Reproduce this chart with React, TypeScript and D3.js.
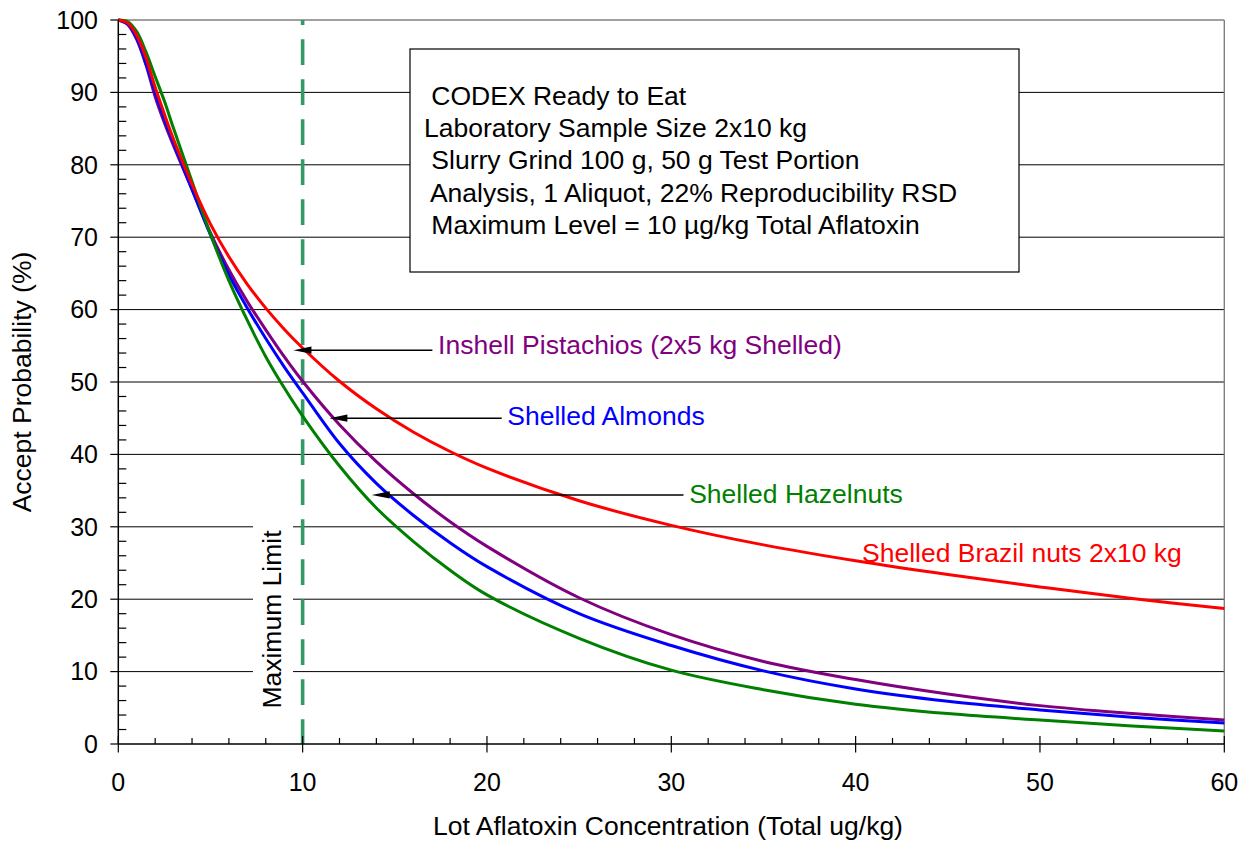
import React, { useRef, useEffect } from 'react';
import * as d3 from 'd3';

// lot concentration (ug/kg) at which the curves were read
const conc = [0, 0.5, 1, 1.5, 2, 2.5, 3, 4, 5, 6, 7, 8, 9, 10, 12, 14, 16, 18, 20, 25, 30, 35, 40, 45, 50, 55, 60];

// accept probability (%) per commodity
const brazil = [100, 99.6, 97.9, 94.8, 90.7, 87.0, 83.5, 77.3, 71.8, 67.3, 63.5, 60.2, 57.3, 54.7, 50.1, 46.3, 43.1, 40.4, 38.1, 33.6, 30.2, 27.5, 25.3, 23.4, 21.7, 20.1, 18.7];
const pistachio = [100, 99.4, 97.3, 93.8, 89.4, 85.8, 82.6, 76.6, 70.6, 65.5, 61.1, 57.2, 53.5, 50.1, 44.1, 39.0, 34.6, 30.7, 27.3, 20.2, 15.1, 11.4, 8.9, 6.9, 5.3, 4.2, 3.3];
const almond = [100, 99.5, 97.5, 94.0, 90.0, 86.3, 83.0, 76.6, 70.3, 64.8, 60.2, 56.0, 52.1, 48.5, 41.5, 36.0, 31.6, 27.8, 24.5, 18.0, 13.6, 10.1, 7.6, 5.9, 4.7, 3.7, 2.9];
const hazel = [100, 99.8, 98.4, 95.6, 92.2, 88.8, 85.0, 77.7, 70.4, 64.0, 58.5, 53.5, 49.2, 45.3, 38.4, 32.6, 28.0, 24.0, 20.6, 14.6, 10.2, 7.5, 5.5, 4.2, 3.3, 2.5, 1.8];

const xTicks = [0, 10, 20, 30, 40, 50, 60];
const yTicks = [0, 10, 20, 30, 40, 50, 60, 70, 80, 90, 100];

const boxLines = [
  ' CODEX Ready to Eat',
  'Laboratory Sample Size 2x10 kg',
  ' Slurry Grind 100 g, 50 g Test Portion',
  ' Analysis, 1 Aliquot, 22% Reproducibility RSD',
  ' Maximum Level = 10 \u00b5g/kg Total Aflatoxin',
];

const maxLimit = 10;

// labels: text, colour, position in data units, arrow tip / tail (data units) or null
const labels = [
  { text: 'Inshell Pistachios (2x5 kg Shelled)', color: '#800080', x: 17.35, y: 53.8, tip: [9.5, 54.4], tail: 17.04 },
  { text: 'Shelled Almonds', color: '#0000ff', x: 21.1, y: 44.0, tip: [11.45, 45.0], tail: 20.8 },
  { text: 'Shelled Hazelnuts', color: '#008000', x: 30.97, y: 33.3, tip: [13.75, 34.4], tail: 30.66 },
  { text: 'Shelled Brazil nuts 2x10 kg', color: '#ff0000', x: 40.35, y: 25.2, tip: null, tail: 0 },
];

const series = [
  { name: 'pistachio', values: pistachio, color: '#800080' },
  { name: 'almond', values: almond, color: '#0000ff' },
  { name: 'hazel', values: hazel, color: '#008000' },
  { name: 'brazil', values: brazil, color: '#ff0000' },
];

const W = 1242, H = 841;
const FONT = '"Liberation Sans", Arial, sans-serif';

export default function App() {
  const svgRef = useRef<SVGSVGElement>(null);

  useEffect(() => {
    const svg = d3.select(svgRef.current as SVGSVGElement);
    svg.selectAll('*').remove();
    svg.style('font-family', FONT);

    const x = d3.scaleLinear().domain([0, 60]).range([118.3, 1224.3]);
    const y = d3.scaleLinear().domain([0, 100]).range([744, 20]);
    const [x0, x1] = x.range();

    svg.append('rect').attr('width', W).attr('height', H).attr('fill', '#fff');

    // gridlines
    svg.append('g').selectAll('line')
      .data(yTicks.filter(v => v > 0 && v < 100))
      .join('line')
      .attr('x1', x0).attr('x2', x1)
      .attr('y1', d => y(d)).attr('y2', d => y(d))
      .attr('stroke', '#000').attr('stroke-width', 1);
    svg.append('line')
      .attr('x1', x0).attr('x2', x1).attr('y1', y(100)).attr('y2', y(100))
      .attr('stroke', '#808080').attr('stroke-width', 1.6);
    svg.append('line')
      .attr('x1', x1).attr('x2', x1).attr('y1', y(100)).attr('y2', y(0))
      .attr('stroke', '#808080').attr('stroke-width', 1.4);

    // text box
    svg.append('rect')
      .attr('x', 410).attr('y', 49).attr('width', 609).attr('height', 223)
      .attr('fill', '#fff').attr('stroke', '#000').attr('stroke-width', 1.2);
    svg.append('g').selectAll('text')
      .data(boxLines)
      .join('text')
      .attr('x', 424)
      .attr('y', (_, i) => 105 + i * 32.2)
      .attr('font-size', 26.5)
      .style('white-space', 'pre')
      .attr('fill', '#000')
      .text(d => d);

    // "Maximum Limit" label with white backing
    svg.append('rect')
      .attr('x', 253).attr('y', 522).attr('width', 40).attr('height', 192)
      .attr('fill', '#fff');
    svg.append('text')
      .attr('transform', `translate(281,619.5) rotate(-90)`)
      .attr('text-anchor', 'middle')
      .attr('font-size', 26.5)
      .text('Maximum Limit');

    // max limit dashed line
    svg.append('line')
      .attr('x1', x(maxLimit)).attr('x2', x(maxLimit))
      .attr('y1', y(100)).attr('y2', y(0))
      .attr('stroke', '#339966').attr('stroke-width', 3.6)
      .attr('stroke-dasharray', '25.7,14.3')
      .attr('stroke-dashoffset', 20.7);

    // curves
    const line = d3.line<number>()
      .x((_, i) => x(conc[i]))
      .y(d => y(d))
      .curve(d3.curveCatmullRom.alpha(0.5));
    svg.append('g').selectAll('path')
      .data(series)
      .join('path')
      .attr('fill', 'none')
      .attr('stroke', d => d.color)
      .attr('stroke-width', 3)
      .attr('stroke-linejoin', 'round')
      .attr('d', d => line(d.values) as string);

    // axes
    svg.append('line').attr('x1', x0).attr('x2', x0).attr('y1', y(100)).attr('y2', y(0))
      .attr('stroke', '#000').attr('stroke-width', 1.5);
    svg.append('line').attr('x1', x0).attr('x2', x1).attr('y1', y(0)).attr('y2', y(0))
      .attr('stroke', '#000').attr('stroke-width', 1.5);

    const minor = d3.range(0, 101, 2).filter(v => v % 10 !== 0);
    svg.append('g').selectAll('line')
      .data(minor)
      .join('line')
      .attr('x1', x0).attr('x2', x0 + 8)
      .attr('y1', d => y(d)).attr('y2', d => y(d))
      .attr('stroke', '#000').attr('stroke-width', 1.2);
    svg.append('g').selectAll('line')
      .data(yTicks)
      .join('line')
      .attr('x1', x0 - 8).attr('x2', x0)
      .attr('y1', d => y(d)).attr('y2', d => y(d))
      .attr('stroke', '#000').attr('stroke-width', 1.2);
    svg.append('g').selectAll('text')
      .data(yTicks)
      .join('text')
      .attr('x', 98).attr('y', d => y(d)).attr('dy', '0.35em')
      .attr('text-anchor', 'end').attr('font-size', 25)
      .text(d => d);

    const minorX = d3.range(0, 61, 2).filter(v => v % 10 !== 0);
    svg.append('g').selectAll('line')
      .data(minorX)
      .join('line')
      .attr('x1', d => x(d)).attr('x2', d => x(d))
      .attr('y1', y(0) - 6).attr('y2', y(0))
      .attr('stroke', '#000').attr('stroke-width', 1.2);
    svg.append('g').selectAll('line')
      .data(xTicks)
      .join('line')
      .attr('x1', d => x(d)).attr('x2', d => x(d))
      .attr('y1', y(0) - 8).attr('y2', y(0) + 8.5)
      .attr('stroke', '#000').attr('stroke-width', 1.2);
    svg.append('g').selectAll('text')
      .data(xTicks)
      .join('text')
      .attr('x', d => x(d)).attr('y', 791)
      .attr('text-anchor', 'middle').attr('font-size', 25)
      .text(d => d);

    svg.append('text')
      .attr('x', 668).attr('y', 835)
      .attr('text-anchor', 'middle').attr('font-size', 26.5)
      .text('Lot Aflatoxin Concentration (Total ug/kg)');
    svg.append('text')
      .attr('transform', 'translate(31,382) rotate(-90)')
      .attr('text-anchor', 'middle').attr('font-size', 26.5)
      .text('Accept Probability (%)');

    // series labels with arrows
    const g = svg.append('g');
    labels.forEach(l => {
      if (l.tip) {
        const tx = x(l.tip[0]), ty = y(l.tip[1]);
        g.append('line')
          .attr('x1', tx + 10).attr('x2', x(l.tail))
          .attr('y1', ty).attr('y2', ty)
          .attr('stroke', '#000').attr('stroke-width', 1.5);
        g.append('path')
          .attr('d', `M${tx},${ty}L${tx + 18},${ty - 3.6}L${tx + 18},${ty + 3.6}Z`)
          .attr('fill', '#000');
      }
      g.append('text')
        .attr('x', x(l.x)).attr('y', y(l.y))
        .attr('font-size', 26.5)
        .attr('fill', l.color)
        .text(l.text);
    });
  }, []);

  return (
    <svg
      ref={svgRef}
      width={W}
      height={H}
      style={{ position: 'absolute', left: 0, top: 0, display: 'block' }}
    />
  );
}
